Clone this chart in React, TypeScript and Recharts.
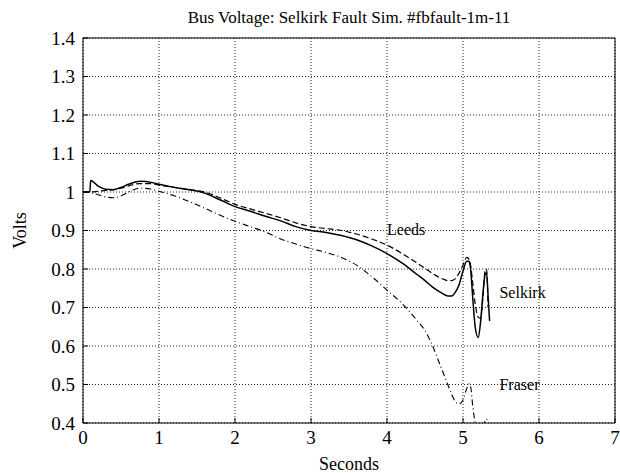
import React from 'react';
import { LineChart, Line, XAxis, YAxis, CartesianGrid, ReferenceLine, ReferenceDot } from 'recharts';

// time axis (seconds), shared by all three buses
const seconds = [0, 0.09, 0.1, 0.2, 0.3, 0.4, 0.5, 0.6, 0.75, 0.9, 1.0, 1.2, 1.4, 1.6, 1.8, 2.0, 2.2, 2.4, 2.6, 2.8, 3.0, 3.2, 3.4, 3.6, 3.8, 4.0, 4.2, 4.4, 4.5, 4.6, 4.7, 4.8, 4.85, 4.9, 4.95, 5.0, 5.05, 5.08, 5.1, 5.13, 5.16, 5.2, 5.23, 5.26, 5.29, 5.31, 5.33, 5.35];

const selkirk = [1.0, 1.0, 1.03, 1.015, 1.007, 1.006, 1.012, 1.02, 1.028, 1.025, 1.02, 1.012, 1.006, 0.997, 0.98, 0.962, 0.95, 0.937, 0.925, 0.91, 0.9, 0.895, 0.887, 0.876, 0.86, 0.84, 0.815, 0.785, 0.77, 0.753, 0.74, 0.73, 0.73, 0.74, 0.76, 0.795, 0.82, 0.82, 0.8, 0.72, 0.65, 0.622, 0.66, 0.73, 0.785, 0.79, 0.73, 0.665];

const leeds = [1.0, 1.0, 1.0, 1.002, 1.004, 1.006, 1.01, 1.016, 1.022, 1.022, 1.018, 1.012, 1.006, 1.0, 0.985, 0.968, 0.956, 0.945, 0.933, 0.92, 0.91, 0.905, 0.9, 0.891, 0.878, 0.862, 0.84, 0.815, 0.802, 0.788, 0.777, 0.77, 0.77, 0.775, 0.79, 0.81, 0.83, 0.825, 0.81, 0.76, 0.71, 0.675, 0.672, 0.72, 0.795, 0.8, 0.7, null];

const fraser = [1.0, 1.0, 0.999, 0.993, 0.987, 0.985, 0.99, 1.0, 1.01, 1.007, 1.002, 0.99, 0.975, 0.958, 0.94, 0.924, 0.91, 0.896, 0.878, 0.865, 0.853, 0.843, 0.83, 0.81, 0.78, 0.745, 0.71, 0.665, 0.64, 0.6, 0.55, 0.5, 0.475, 0.455, 0.449, 0.46, 0.49, 0.502, 0.495, 0.44, 0.4, 0.37, 0.36, 0.38, 0.405, 0.41, 0.39, null];

const xTicks = [0, 1, 2, 3, 4, 5, 6, 7];
const yTicks = [0.4, 0.5, 0.6, 0.7, 0.8, 0.9, 1.0, 1.1, 1.2, 1.3, 1.4];

const data = seconds.map((t, i) => ({ t, selkirk: selkirk[i], leeds: leeds[i], fraser: fraser[i] }));

const font = "'Times New Roman', 'Liberation Serif', Tinos, 'DejaVu Serif', serif";
const tickStyle = { fontSize: 19, fontFamily: font, fill: '#000' };
const labelStyle = { fontSize: 16, fontFamily: font, fill: '#000' };

const fmt = (v: number) => String(Number(v.toFixed(1)));

export default function App() {
  return (
    <div style={{ position: 'absolute', left: 0, top: 0, width: 620, height: 473, background: '#fff', fontFamily: font }}>
      <div style={{ position: 'absolute', left: 0, top: 8, width: 698, textAlign: 'center', fontFamily: font, fontSize: 17, color: '#000' }}>
        Bus Voltage: Selkirk Fault Sim. #fbfault-1m-11
      </div>
      <LineChart width={620} height={473} data={data} margin={{ top: 38, right: 5, left: 0, bottom: 0 }} style={{ fontFamily: font }}>
        <CartesianGrid stroke="#222" strokeDasharray="1 2" />
        <XAxis
          dataKey="t"
          type="number"
          domain={[0, 7]}
          ticks={xTicks}
          height={50}
          tickSize={-5}
          tickMargin={13}
          tickLine={{ stroke: '#000' }}
          axisLine={{ stroke: '#000' }}
          tick={tickStyle}
          label={{ value: 'Seconds', position: 'center', dy: 16, style: { ...tickStyle, fontSize: 18 } }}
        />
        <YAxis
          type="number"
          domain={[0.4, 1.4]}
          ticks={yTicks}
          allowDataOverflow
          width={83}
          tickSize={-5}
          tickMargin={13}
          tickLine={{ stroke: '#000' }}
          axisLine={{ stroke: '#000' }}
          tick={tickStyle}
          tickFormatter={fmt}
          label={{ value: 'Volts', angle: -90, position: 'center', dx: -22, style: { ...tickStyle, fontSize: 18 } }}
        />
        <ReferenceLine y={1.4} stroke="#000" />
        <ReferenceLine x={7} stroke="#000" />
        <Line type="monotone" dataKey="fraser" stroke="#000" strokeWidth={1.1} strokeDasharray="6 3 1 3" dot={false} isAnimationActive={false} />
        <Line type="monotone" dataKey="leeds" stroke="#000" strokeWidth={1.2} strokeDasharray="6 3" dot={false} isAnimationActive={false} />
        <Line type="monotone" dataKey="selkirk" stroke="#000" strokeWidth={1.5} dot={false} isAnimationActive={false} />
        <ReferenceDot x={4.0} y={0.903} r={0} label={{ value: 'Leeds', position: 'right', offset: 0, style: labelStyle }} />
        <ReferenceDot x={5.48} y={0.739} r={0} label={{ value: 'Selkirk', position: 'right', offset: 0, style: labelStyle }} />
        <ReferenceDot x={5.48} y={0.5} r={0} label={{ value: 'Fraser', position: 'right', offset: 0, style: labelStyle }} />
      </LineChart>
    </div>
  );
}
